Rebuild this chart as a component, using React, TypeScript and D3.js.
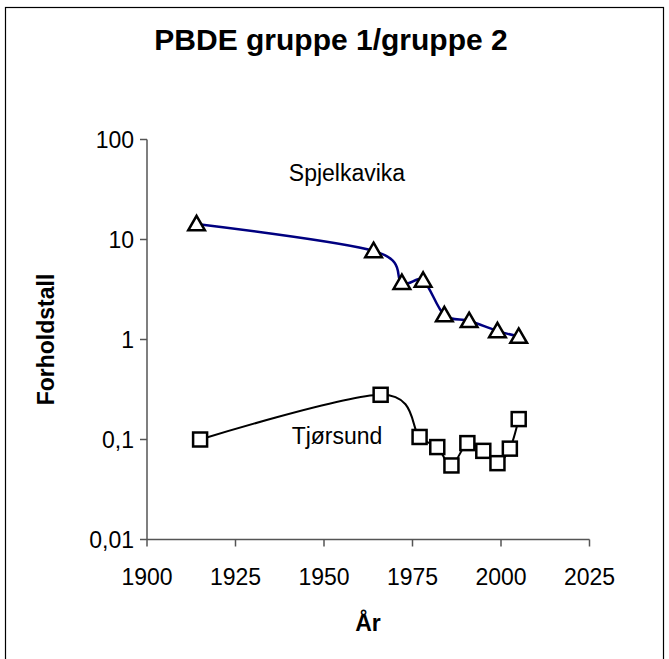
import React from "react";
import * as d3 from "d3";

const spjYears = [1914, 1964, 1972, 1978, 1984, 1991, 1999, 2005];
const spjValues = [14.3, 7.7, 3.7, 3.9, 1.76, 1.54, 1.22, 1.07];
const tjoYears = [1915, 1966, 1977, 1982, 1986, 1990.5, 1995, 1999, 2002.5, 2005];
const tjoValues = [0.1, 0.28, 0.106, 0.084, 0.055, 0.092, 0.077, 0.058, 0.081, 0.16];
const xTicks = [1900, 1925, 1950, 1975, 2000, 2025];
const yTicks = [100, 10, 1, 0.1, 0.01];
const yTickLabels = ["100", "10", "1", "0,1", "0,01"];

const W = 669;
const H = 659;
const FONT = "'Liberation Sans', Arial, sans-serif";

export default function App() {
  const x = d3.scaleLinear().domain([1900, 2025]).range([147, 589.5]);
  const y = d3.scaleLog().domain([0.01, 100]).range([539.5, 139.5]);
  const line = d3
    .line<[number, number]>()
    .x((d) => x(d[0]))
    .y((d) => y(d[1]))
    .curve(d3.curveCatmullRom.alpha(0));
  const spj = spjYears.map((yr, i) => [yr, spjValues[i]] as [number, number]);
  const tjo = tjoYears.map((yr, i) => [yr, tjoValues[i]] as [number, number]);
  const tri = d3.symbol().type(d3.symbolTriangle).size(120)();
  const axisColor = "#555";

  return (
    <svg
      width={W}
      height={H}
      style={{ position: "absolute", left: 0, top: 0, background: "#fff" }}
      fontFamily={FONT}
    >
      <rect x={5.5} y={7.5} width={658} height={660} fill="#fff" stroke="#000" strokeWidth={1.2} />
      <text x={331} y={50} textAnchor="middle" fontSize={30} fontWeight="bold">
        PBDE gruppe 1/gruppe 2
      </text>

      {/* axes */}
      <line x1={147} x2={147} y1={139.5} y2={539.5} stroke={axisColor} strokeWidth={1.5} />
      <line x1={147} x2={589.5} y1={539.5} y2={539.5} stroke={axisColor} strokeWidth={1.5} />
      {yTicks.map((t, i) => (
        <g key={"y" + t}>
          <line x1={140} x2={147} y1={y(t)} y2={y(t)} stroke={axisColor} strokeWidth={1.5} />
          <text x={134} y={y(t) + 8} textAnchor="end" fontSize={23}>
            {yTickLabels[i]}
          </text>
        </g>
      ))}
      {xTicks.map((t) => (
        <g key={"x" + t}>
          <line x1={x(t)} x2={x(t)} y1={539.5} y2={546.5} stroke={axisColor} strokeWidth={1.5} />
          <text x={x(t)} y={585} textAnchor="middle" fontSize={23}>
            {t}
          </text>
        </g>
      ))}
      <text x={368} y={631} textAnchor="middle" fontSize={23} fontWeight="bold">
        År
      </text>
      <text
        transform={`translate(54,339.5) rotate(-90)`}
        textAnchor="middle"
        fontSize={23}
        fontWeight="bold"
      >
        Forholdstall
      </text>

      {/* series */}
      <path d={line(spj) || ""} fill="none" stroke="#000080" strokeWidth={2.5} />
      <path d={line(tjo) || ""} fill="none" stroke="#000" strokeWidth={2} />
      {spj.map((d, i) => (
        <path
          key={"t" + i}
          d={tri || ""}
          transform={`translate(${x(d[0])},${y(d[1]) + 1.5})`}
          fill="#fff"
          stroke="#000"
          strokeWidth={2.5}
        />
      ))}
      {tjo.map((d, i) => (
        <rect
          key={"s" + i}
          x={x(d[0]) - 7}
          y={y(d[1]) - 7}
          width={14}
          height={14}
          fill="#fff"
          stroke="#000"
          strokeWidth={2.5}
        />
      ))}

      <text x={347} y={181} textAnchor="middle" fontSize={23}>
        Spjelkavika
      </text>
      <text x={337} y={444} textAnchor="middle" fontSize={23}>
        Tjørsund
      </text>
    </svg>
  );
}
